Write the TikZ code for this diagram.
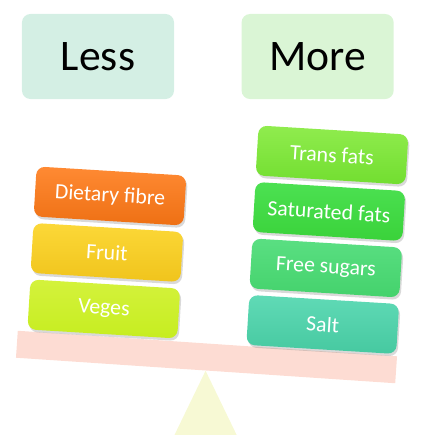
\documentclass[tikz,border=0pt]{standalone}
\usepackage{fontspec}
\setmainfont{Carlito}
\usetikzlibrary{positioning, shadows}

\definecolor{LessBack}{HTML}{D4EFE4}
\definecolor{MoreBack}{HTML}{DAF5D5}
\definecolor{BeamPink}{HTML}{FDDCD3}
\definecolor{FulcrumYellow}{HTML}{F7F9D4}
\definecolor{FibreTop}{HTML}{FF8A33}
\definecolor{FibreBot}{HTML}{EE7014}
\definecolor{FruitTop}{HTML}{FCD838}
\definecolor{FruitBot}{HTML}{F0C41C}
\definecolor{VegesTop}{HTML}{D4F23C}
\definecolor{VegesBot}{HTML}{C6ED20}
\definecolor{TransTop}{HTML}{90EC4E}
\definecolor{TransBot}{HTML}{72DE30}
\definecolor{SatTop}{HTML}{4CE152}
\definecolor{SatBot}{HTML}{3AD23A}
\definecolor{SugarTop}{HTML}{5ADF82}
\definecolor{SugarBot}{HTML}{44D26C}
\definecolor{SaltTop}{HTML}{60DAB6}
\definecolor{SaltBot}{HTML}{46C9A0}

\begin{document}
\begin{tikzpicture}[x=0.025cm, y=-0.025cm, node distance=0.15cm]
        \tikzstyle{header} = [rectangle, rounded corners=6pt, minimum width=3.8cm,
            minimum height=2.125cm, font=\fontsize{31}{37}\selectfont]
        \tikzstyle{item} = [rectangle, rounded corners=6pt, rotate=-3.5,
            minimum width=3.75cm, minimum height=1.25cm, text=white,
            font=\fontsize{15.5}{18}\selectfont,
            drop shadow={shadow xshift=1pt, shadow yshift=-1.8pt, opacity=0.3}]
        \tikzstyle{beam} = [rectangle, fill=BeamPink, rotate=-3.85,
            minimum width=9.5cm, minimum height=0.675cm]

        \useasboundingbox (0,0) rectangle (422,435);

        \node [header, fill=LessBack] (less) at (98,56.5) {Less};
        \node [header, fill=MoreBack, right=1.675cm of less] (more) {More};

        % the seesaw
        \node [beam] (beam) at (206.5,357) {};
        \fill [FulcrumYellow] (beam.south) -- ++(31,64) -- ++(-62,0) -- cycle;

        % left pan
        \node [item, top color=FibreTop, bottom color=FibreBot]
            (fibre) at (110,196) {Dietary fibre};
        \node [item, top color=FruitTop, bottom color=FruitBot,
            below=of fibre] (fruit) {Fruit};
        \node [item, top color=VegesTop, bottom color=VegesBot,
            below=of fruit] (veges) {Veges};

        % right pan
        \node [item, top color=TransTop, bottom color=TransBot]
            (trans) at (332,155) {Trans fats};
        \node [item, top color=SatTop, bottom color=SatBot,
            below=of trans] (satfat) {Saturated fats};
        \node [item, top color=SugarTop, bottom color=SugarBot,
            below=of satfat] (sugar) {Free sugars};
        \node [item, top color=SaltTop, bottom color=SaltBot,
            below=of sugar] (salt) {Salt};
    \end{tikzpicture}
\end{document}
